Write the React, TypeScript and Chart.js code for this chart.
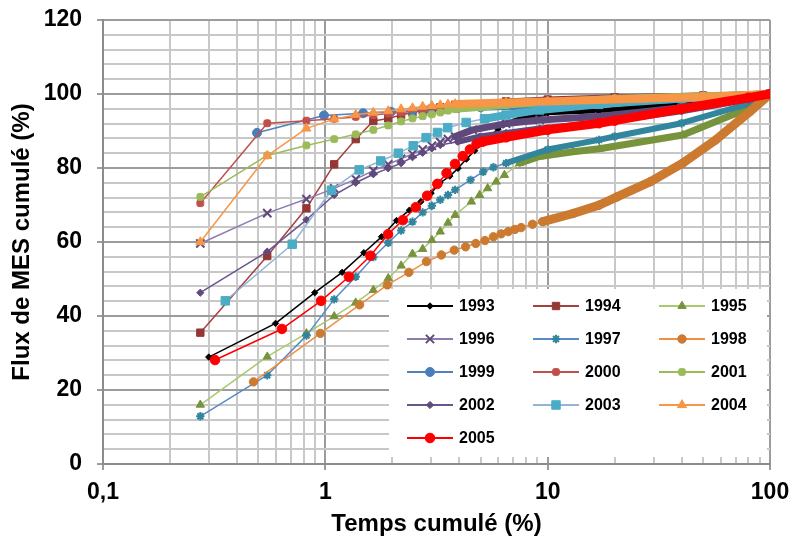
import React, { useEffect, useRef } from 'react';
import { Chart, registerables } from 'chart.js';
import { drawPoint } from 'chart.js/helpers';

Chart.register(...registerables);

const FONT = '"Liberation Sans", Arial, Helvetica, sans-serif';

// ---- Data (cumulated time %, cumulated MES flux %) ----
const seriesNames = ['1993', '1994', '1995', '1996', '1997', '1998', '1999', '2000', '2001', '2002', '2003', '2004', '2005'];

const x1993 = [0.299, 0.597, 0.896, 1.19, 1.49, 1.79, 2.09, 2.39, 2.69, 2.99, 3.28, 3.63, 3.95, 4.31, 4.7, 5.04, 5.49, 5.98, 6.3, 7.5, 10, 17, 40, 70, 100];
const y1993 = [28.9, 38.0, 46.3, 51.8, 57.1, 61.4, 65.8, 68.6, 70.9, 73.2, 76.0, 77.8, 79.9, 82.4, 84.7, 86.7, 88.6, 90.5, 91.6, 93.3, 94.9, 95.5, 97.5, 98.8, 100];

const x1994 = [0.274, 0.548, 0.822, 1.096, 1.37, 1.644, 1.918, 2.192, 2.466, 2.74, 3.014, 3.288, 3.836, 6.5, 10, 20, 50, 100];
const y1994 = [35.5, 56.2, 69.1, 81.0, 87.8, 92.7, 93.4, 94.3, 95.0, 95.5, 96.0, 96.4, 97.1, 98.0, 98.5, 99.1, 99.6, 100];

const x1995 = [0.274, 0.548, 0.822, 1.096, 1.37, 1.644, 1.918, 2.192, 2.466, 2.74, 3.014, 3.288, 3.562, 3.836, 4.54, 4.94, 5.37, 5.87, 6.39, 7.48, 9.2, 13, 17.1, 40.5, 81, 100];
const y1995 = [16.0, 29.0, 35.3, 39.9, 43.6, 47.0, 50.2, 53.6, 56.8, 58.1, 60.5, 62.8, 65.2, 67.3, 70.9, 72.7, 74.5, 76.3, 78.1, 81.3, 83.1, 84.4, 85.2, 88.9, 96.3, 100];

const x1996 = [0.274, 0.548, 0.822, 1.096, 1.37, 1.644, 1.918, 2.192, 2.466, 2.74, 3.014, 3.288, 3.562, 3.836, 4.6, 6.5, 9.2, 17, 40, 80, 100];
const y1996 = [59.6, 67.8, 71.6, 74.5, 77.0, 79.3, 81.0, 82.5, 83.8, 85.0, 86.0, 87.0, 87.8, 88.5, 90.3, 92.0, 93.0, 93.9, 96.3, 98.8, 100];

const x1997 = [0.274, 0.548, 0.822, 1.096, 1.37, 1.644, 1.918, 2.192, 2.466, 2.74, 3.014, 3.288, 3.562, 3.836, 4.5, 5.13, 5.7, 6.5, 10, 17, 20, 40, 80, 100];
const y1997 = [12.9, 24.0, 34.7, 44.5, 50.6, 55.9, 59.8, 63.1, 65.5, 68.0, 69.8, 71.4, 72.7, 74.1, 76.8, 79.0, 80.2, 81.3, 85.0, 87.6, 88.5, 92.1, 97.3, 100];

const x1998 = [0.475, 0.95, 1.425, 1.9, 2.375, 2.85, 3.325, 3.8, 4.275, 4.75, 5.225, 5.7, 6.175, 6.65, 7.125, 7.6, 8.55, 9.5, 13, 17.1, 20.5, 29, 40.5, 57, 81, 100];
const y1998 = [22.2, 35.3, 43.0, 48.4, 51.8, 54.7, 56.5, 57.8, 58.7, 59.6, 60.4, 61.4, 62.2, 62.8, 63.4, 63.9, 64.8, 65.5, 67.7, 70.0, 72.2, 76.3, 81.3, 87.6, 95.2, 100];

const x1999 = [0.493, 0.986, 1.479, 1.972, 2.465, 2.96, 3.45, 3.94, 5, 7, 10, 20, 40, 100];
const y1999 = [89.5, 94.2, 94.8, 95.2, 95.5, 95.8, 96.0, 96.2, 96.4, 96.7, 97.0, 97.8, 98.6, 100];

const x2000 = [0.274, 0.548, 0.822, 1.096, 1.37, 1.644, 1.918, 2.192, 2.74, 3.288, 4.5, 6.5, 10, 20, 50, 100];
const y2000 = [70.5, 92.1, 92.8, 93.3, 93.8, 94.3, 94.7, 95.0, 95.6, 96.1, 96.8, 97.5, 98.2, 99.0, 99.6, 100];

const x2001 = [0.274, 0.548, 0.822, 1.096, 1.37, 1.644, 1.918, 2.192, 2.466, 2.74, 3.014, 3.288, 3.562, 3.836, 5, 6.5, 10, 20, 50, 100];
const y2001 = [72.2, 83.4, 86.1, 87.8, 89.1, 90.3, 91.5, 92.6, 93.4, 94.0, 94.5, 95.0, 95.5, 95.9, 96.4, 97.0, 97.8, 98.8, 99.5, 100];

const x2002 = [0.274, 0.548, 0.822, 1.096, 1.37, 1.644, 1.918, 2.192, 2.466, 2.74, 3.014, 3.288, 3.94, 4.94, 6.5, 9.2, 17, 40, 80, 100];
const y2002 = [46.3, 57.4, 66.0, 72.7, 76.0, 78.3, 79.9, 81.3, 82.9, 84.1, 85.3, 86.2, 87.1, 88.5, 89.5, 90.7, 92.2, 95.3, 98.5, 100];

const x2003 = [0.355, 0.71, 1.065, 1.42, 1.775, 2.13, 2.485, 2.84, 3.195, 3.55, 4.3, 5.2, 6.5, 9.2, 17, 40, 100];
const y2003 = [44.1, 59.4, 74.0, 79.5, 81.9, 84.0, 86.0, 88.2, 89.6, 90.9, 92.3, 93.3, 94.3, 95.7, 97.2, 98.8, 100];

const x2004 = [0.274, 0.548, 0.822, 1.096, 1.37, 1.644, 1.918, 2.192, 2.466, 2.74, 3.014, 3.288, 3.562, 3.836, 6.5, 10, 20, 50, 100];
const y2004 = [60.0, 83.3, 90.7, 93.2, 94.4, 95.0, 95.4, 95.9, 96.2, 96.6, 96.8, 97.0, 97.2, 97.3, 97.7, 98.0, 98.5, 99.2, 100];

const x2005 = [0.319, 0.638, 0.957, 1.276, 1.595, 1.914, 2.233, 2.552, 2.871, 3.19, 3.51, 3.83, 4.15, 4.47, 4.79, 5.1, 6.5, 10, 17, 20, 40, 80, 100];
const y2005 = [28.1, 36.5, 44.1, 50.6, 56.3, 62.1, 65.9, 69.4, 72.5, 75.7, 78.6, 81.1, 83.2, 85.0, 86.5, 87.1, 88.3, 90.3, 92.1, 92.8, 96.0, 99.0, 100];

const seriesX = [x1993, x1994, x1995, x1996, x1997, x1998, x1999, x2000, x2001, x2002, x2003, x2004, x2005];
const seriesY = [y1993, y1994, y1995, y1996, y1997, y1998, y1999, y2000, y2001, y2002, y2003, y2004, y2005];

// Axis ticks
const xTickValues = [0.1, 0.2, 0.3, 0.4, 0.5, 0.6, 0.7, 0.8, 0.9, 1, 2, 3, 4, 5, 6, 7, 8, 9, 10, 20, 30, 40, 50, 60, 70, 80, 90, 100];
const xTickLabels: Record<string, string> = { '0.1': '0,1', '1': '1', '10': '10', '100': '100' };
const yMajorStep = 20;
const yMinorStep = 4;

// ---- Styles (not data) ----
type St = { line: string; marker: string; shape: string; r: number; bw: number; dense: number; band: number };
const styles: St[] = [
  { line: '#000000', marker: '#000000', shape: 'rectRot', r: 3.2, bw: 1, dense: 18, band: 5 },
  { line: '#a5413f', marker: '#953735', shape: 'rect', r: 5.2, bw: 1, dense: 12, band: 6 },
  { line: '#a9c971', marker: '#77933c', shape: 'triangle', r: 4.8, bw: 1, dense: 19, band: 7 },
  { line: '#8e7bb0', marker: '#5f497a', shape: 'crossRot', r: 5.8, bw: 2, dense: 13, band: 7 },
  { line: '#5a8ac6', marker: '#31859c', shape: 'star', r: 4.2, bw: 2, dense: 17, band: 6 },
  { line: '#ed8f45', marker: '#cc7a30', shape: 'circle', r: 4.2, bw: 1, dense: 17, band: 9 },
  { line: '#4f81bd', marker: '#4a7ebb', shape: 'circle', r: 4.5, bw: 1, dense: 7, band: 7 },
  { line: '#c0504d', marker: '#c0504d', shape: 'rectRounded', r: 4, bw: 1, dense: 9, band: 6 },
  { line: '#9bbb59', marker: '#9bbb59', shape: 'rectRounded', r: 4, bw: 1, dense: 13, band: 7 },
  { line: '#6a5490', marker: '#604a7b', shape: 'rectRot', r: 3.6, bw: 1, dense: 12, band: 6 },
  { line: '#95b3d7', marker: '#4bacc6', shape: 'rect', r: 6, bw: 1, dense: 11, band: 8 },
  { line: '#f79646', marker: '#f79646', shape: 'triangle', r: 5.3, bw: 1, dense: 13, band: 8 },
  { line: '#ff0000', marker: '#ff0000', shape: 'circle', r: 4.8, bw: 1, dense: 15, band: 9 },
];

const MAJOR_GRID = '#9c9c9c';
const MINOR_GRID = '#c8c8c8';

const isDecade = (v: number) => Math.abs(Math.log10(v) - Math.round(Math.log10(v))) < 1e-6;

const legendPlugin = {
  id: 'insideLegend',
  afterDatasetsDraw(chart: any) {
    const { ctx, chartArea } = chart;
    const boxLeft = chartArea.right - 381;
    const boxTop = chartArea.top + 269;
    const boxRight = chartArea.right - 3;
    const boxBottom = chartArea.bottom - 7;
    ctx.save();
    ctx.fillStyle = '#ffffff';
    ctx.fillRect(boxLeft, boxTop, boxRight - boxLeft, boxBottom - boxTop);
    const cols = 3;
    seriesNames.forEach((name, i) => {
      const s = styles[i];
      const col = i % cols;
      const row = Math.floor(i / cols);
      const x0 = boxLeft + 18 + col * 126;
      const yc = boxTop + 17 + row * 33;
      ctx.strokeStyle = s.line;
      ctx.lineWidth = 2;
      ctx.beginPath();
      ctx.moveTo(x0, yc);
      ctx.lineTo(x0 + 46, yc);
      ctx.stroke();
      ctx.fillStyle = s.marker;
      ctx.strokeStyle = s.marker;
      ctx.lineWidth = s.bw;
      drawPoint(ctx, { pointStyle: s.shape, radius: s.r, rotation: 0, borderWidth: s.bw } as any, x0 + 23, yc);
      ctx.fillStyle = '#000000';
      ctx.font = `bold 16px ${FONT}`;
      ctx.textAlign = 'left';
      ctx.textBaseline = 'middle';
      ctx.fillText(name, x0 + 52, yc + 1);
    });
    ctx.restore();
  },
};

export default function App() {
  const ref = useRef<HTMLCanvasElement | null>(null);

  useEffect(() => {
    if (!ref.current) return;
    const datasets = seriesNames.map((name, i) => {
      const s = styles[i];
      return {
        label: name,
        data: seriesX[i].map((x, j) => ({ x, y: seriesY[i][j] })),
        showLine: true,
        fill: false,
        tension: 0,
        borderColor: s.line,
        backgroundColor: s.marker,
        borderWidth: 1.5,
        borderCapStyle: 'round',
        borderJoinStyle: 'round',
        pointStyle: s.shape,
        pointRadius: s.r,
        pointHoverRadius: s.r,
        pointBorderWidth: s.bw,
        pointBackgroundColor: s.marker,
        pointBorderColor: s.marker,
        order: seriesNames.length - 1 - i,
        segment: {
          borderWidth: (c: any) => (c.p0DataIndex >= s.dense ? s.band : 1.5),
          borderColor: (c: any) => (c.p0DataIndex >= s.dense ? s.marker : s.line),
        },
      };
    });

    const chart = new Chart(ref.current, {
      type: 'scatter',
      data: { datasets: datasets as any },
      plugins: [legendPlugin],
      options: {
        animation: false,
        responsive: false,
        devicePixelRatio: 1,
        layout: { padding: { top: 20, right: 20, left: 0, bottom: 0 } },
        plugins: { legend: { display: false }, tooltip: { enabled: false } },
        scales: {
          x: {
            type: 'logarithmic',
            min: 0.1,
            max: 100,
            afterBuildTicks: (scale: any) => {
              scale.ticks = xTickValues.map((v) => ({ value: v, major: isDecade(v) }));
            },
            afterFit: (scale: any) => {
              scale.height = 80;
              scale.paddingLeft = 0;
              scale.paddingRight = 0;
            },
            ticks: {
              autoSkip: false,
              maxRotation: 0,
              minRotation: 0,
              padding: 9,
              color: '#000000',
              font: { family: FONT, size: 23, weight: 'bold' },
              callback: (v: any) => xTickLabels[String(v)] ?? '',
            },
            grid: {
              lineWidth: 2,
              color: (c: any) => (isDecade(c.tick.value) ? MAJOR_GRID : MINOR_GRID),
              tickLength: 6,
              tickColor: (c: any) => (isDecade(c.tick.value) ? MAJOR_GRID : 'rgba(0,0,0,0)'),
            },
            border: { color: '#8c8c8c', width: 2 },
            title: {
              display: true,
              text: 'Temps cumulé (%)',
              color: '#000000',
              font: { family: FONT, size: 24, weight: 'bold' },
              padding: { top: 0, bottom: 5 },
            },
          },
          y: {
            type: 'linear',
            min: 0,
            max: 120,
            afterFit: (scale: any) => {
              scale.width = 103;
              scale.paddingTop = 0;
              scale.paddingBottom = 0;
            },
            ticks: {
              stepSize: yMinorStep,
              autoSkip: false,
              padding: 15,
              color: '#000000',
              font: { family: FONT, size: 23, weight: 'bold' },
              callback: (v: any) => (v % yMajorStep === 0 ? String(v) : ''),
            },
            grid: {
              lineWidth: 2,
              color: (c: any) => (c.tick.value % yMajorStep === 0 ? MAJOR_GRID : MINOR_GRID),
              tickLength: 6,
              tickColor: (c: any) => (c.tick.value % yMajorStep === 0 ? MAJOR_GRID : 'rgba(0,0,0,0)'),
            },
            border: { color: '#8c8c8c', width: 2 },
            title: {
              display: true,
              text: 'Flux de MES cumulé (%)',
              color: '#000000',
              font: { family: FONT, size: 24, weight: 'bold' },
              padding: { top: 8, bottom: 0 },
            },
          },
        },
      } as any,
    });
    return () => chart.destroy();
  }, []);

  return (
    <div style={{ position: 'fixed', left: 0, top: 0, width: 790, height: 544, background: '#ffffff' }}>
      <canvas ref={ref} width={790} height={544} style={{ width: 790, height: 544, display: 'block' }} />
    </div>
  );
}
